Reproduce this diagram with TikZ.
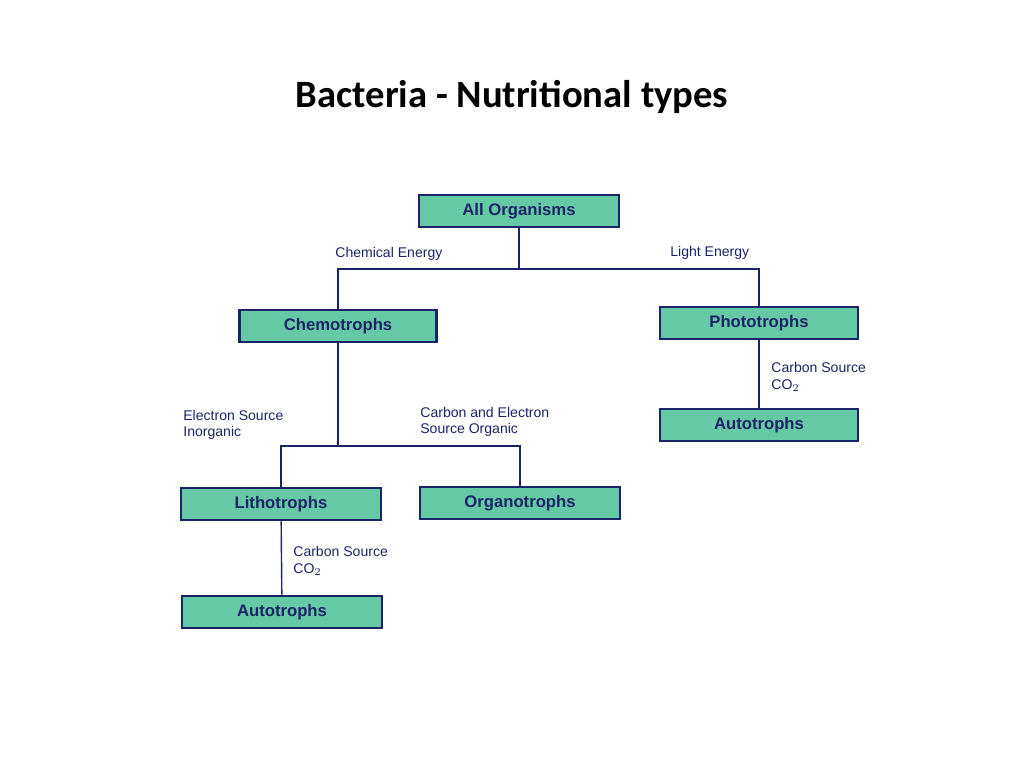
\documentclass[tikz,border=0pt]{standalone}
\usepackage{fontspec}
\setmainfont{Liberation Sans}
\newfontfamily\titlefont{Carlito}
\definecolor{boxfill}{HTML}{66C9A6}
\definecolor{navy}{HTML}{1B2466}
\tikzset{
  orgbox/.style={draw=navy, line width=1.6pt, fill=boxfill, minimum width=200*0.02cm,
    minimum height=32*0.02cm, inner sep=0pt, text=navy, font=\bfseries\fontsize{9.5}{11}\selectfont},
  lbl/.style={text=navy, font=\fontsize{8}{9.5}\selectfont, align=left, inner sep=0pt, anchor=west},
  link/.style={draw=navy, line width=0.8pt}
}
\begin{document}
\begin{tikzpicture}[x=0.02cm, y=-0.02cm]
  \useasboundingbox (0,0) rectangle (1024,768);
  \node[font=\titlefont\bfseries\fontsize{22}{26}\selectfont] (title) at (512,97) {Bacteria - Nutritional types};

  \node[orgbox] (all) at (519,211) {All Organisms};
  \node[orgbox, minimum width=197*0.02cm] (chemo) at (338,326) {Chemotrophs};
  \node[orgbox, minimum width=198*0.02cm] (photo) at (759,323) {Phototrophs};
  \node[orgbox, minimum width=198*0.02cm] (autoR) at (759,425) {Autotrophs};
  \node[orgbox] (litho) at (281,504) {Lithotrophs};
  \node[orgbox] (organo) at (520,503) {Organotrophs};
  \node[orgbox] (autoB) at (282,612) {Autotrophs};

  \coordinate (split1) at (519,269);
  \coordinate (split2) at (338,446);

  \draw[link] (all) -- (split1);
  \draw[link] (chemo.north) |- (split1) -| (photo.north);
  \draw[link] (chemo) -- (split2);
  \draw[link] (litho.north) |- (split2) -| (organo.north);
  \draw[link] (litho) -- (autoB);
  \draw[link] (photo) -- (autoR);

  \node[lbl] (chemlbl) at (335,254) {Chemical Energy};
  \node[lbl] (lightlbl) at (670,253) {Light Energy};
  \node[lbl] (carbR) at (771,377) {Carbon Source\\CO$_2$};
  \node[lbl] (elec) at (183,425) {Electron Source\\Inorganic};
  \node[lbl] (carbel) at (420,422) {Carbon and Electron\\Source Organic};
  \node[lbl] (carbB) at (293,561) {Carbon Source\\CO$_2$};
\end{tikzpicture}
\end{document}
